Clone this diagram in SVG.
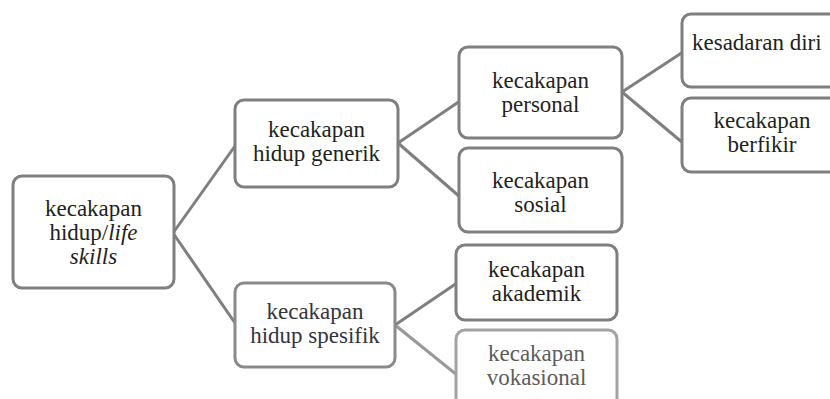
<svg xmlns="http://www.w3.org/2000/svg" width="830" height="399" viewBox="0 0 830 399">
<style>
.box{fill:#fff;stroke:#7f7f7f;stroke-width:3}
.lt{stroke:#8a8a8a}
.vlt{stroke:#a3a3a3}
.t{font-family:"Liberation Serif","Times New Roman",serif;font-size:23px;fill:#231f20;text-anchor:middle}
.tl{fill:#34343f}
.tv{fill:#5c5c5c}
.it{font-style:italic}
.c{stroke:#7f7f7f;stroke-width:3;fill:none}
</style>
<rect width="830" height="399" fill="#fff"/>
<g id="connectors">
<line class="c" x1="173" y1="233" x2="235" y2="146"/>
<line class="c" x1="173" y1="233" x2="235" y2="323"/>
<line class="c" x1="398" y1="143" x2="460" y2="101"/>
<line class="c" x1="398" y1="143" x2="460" y2="197"/>
<line class="c" x1="622" y1="92" x2="683" y2="52"/>
<line class="c" x1="622" y1="92" x2="683" y2="143"/>
<line class="c" x1="395" y1="325" x2="457" y2="283"/>
<line class="c" style="stroke:#999" x1="395" y1="325" x2="457" y2="375"/>
</g>
<g id="root">
<rect class="box" x="13" y="176" width="161" height="112" rx="9"/>
<text class="t" x="93.5" y="216">kecakapan</text>
<text class="t" x="93.5" y="240">hidup/<tspan class="it">life</tspan></text>
<text class="t it" x="93.5" y="264">skills</text>
</g>
<g id="generik">
<rect class="box" x="235" y="100" width="163" height="87" rx="9"/>
<text class="t" x="316.5" y="137">kecakapan</text>
<text class="t" x="316.5" y="161">hidup generik</text>
</g>
<g id="spesifik">
<rect class="box lt" x="235" y="283" width="160" height="84" rx="9"/>
<text class="t tl" x="315" y="319">kecakapan</text>
<text class="t tl" x="315" y="343">hidup spesifik</text>
</g>
<g id="personal">
<rect class="box" x="459" y="47" width="163" height="91" rx="9"/>
<text class="t" x="540.5" y="88">kecakapan</text>
<text class="t" x="540.5" y="112">personal</text>
</g>
<g id="sosial">
<rect class="box" x="459" y="148" width="163" height="84" rx="9"/>
<text class="t" x="540.5" y="188">kecakapan</text>
<text class="t" x="540.5" y="212">sosial</text>
</g>
<g id="akademik">
<rect class="box" x="456" y="245" width="161" height="75" rx="9"/>
<text class="t" x="536.5" y="277">kecakapan</text>
<text class="t" x="536.5" y="301">akademik</text>
</g>
<g id="vokasional">
<rect class="box vlt" x="456" y="330" width="161" height="80" rx="9"/>
<text class="t tv" x="536.5" y="361">kecakapan</text>
<text class="t tv" x="536.5" y="385">vokasional</text>
</g>
<g id="kesadaran">
<rect class="box" x="682" y="14" width="170" height="73" rx="9"/>
<text class="t" x="692" y="50" style="text-anchor:start">kesadaran diri</text>
</g>
<g id="berfikir">
<rect class="box" x="682" y="98" width="170" height="74" rx="9"/>
<text class="t" x="762" y="128">kecakapan</text>
<text class="t" x="762" y="152">berfikir</text>
</g>
</svg>
